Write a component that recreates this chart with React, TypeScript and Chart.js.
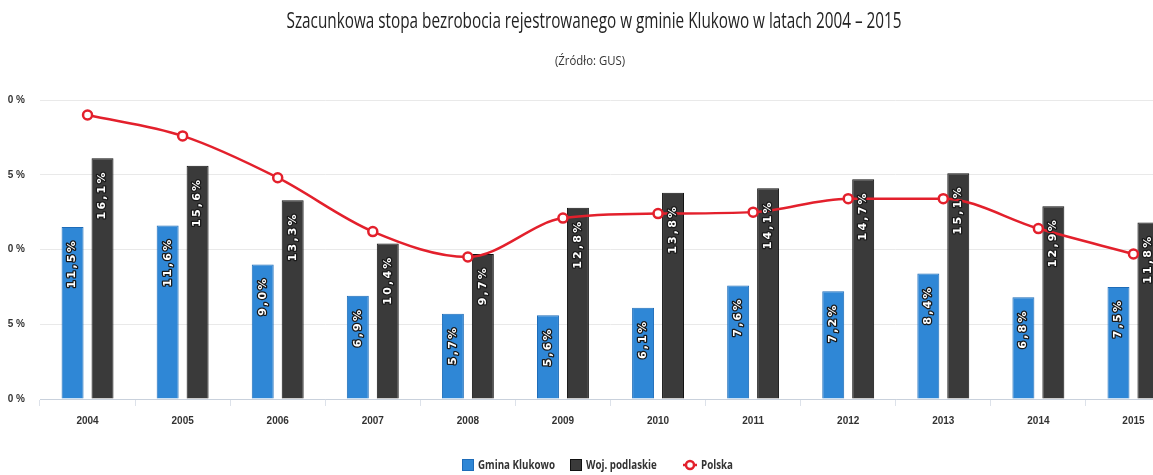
import React, { useEffect, useRef } from "react";
import { Chart, registerables } from "chart.js";

Chart.register(...registerables);

const categories = ["2004", "2005", "2006", "2007", "2008", "2009", "2010", "2011", "2012", "2013", "2014", "2015"];
const gminaKlukowo = [11.5, 11.6, 9.0, 6.9, 5.7, 5.6, 6.1, 7.6, 7.2, 8.4, 6.8, 7.5];
const wojPodlaskie = [16.1, 15.6, 13.3, 10.4, 9.7, 12.8, 13.8, 14.1, 14.7, 15.1, 12.9, 11.8];
const polska = [19.0, 17.6, 14.8, 11.2, 9.5, 12.1, 12.4, 12.5, 13.4, 13.4, 11.4, 9.7];
const yTickLabels: Record<number, string> = { 0: "0 %", 5: "5 %", 10: "0 %", 15: "5 %", 20: "0 %" };
const seriesNames = ["Gmina Klukowo", "Woj. podlaskie", "Polska"];
const seriesColors = ["#2f87d6", "#3a3a3a", "#e3202c"];

const titleText = "Szacunkowa stopa bezrobocia rejestrowanego w gminie Klukowo w latach 2004 – 2015";
const subtitleText = "(Źródło: GUS)";

const FONT = "'Liberation Sans', 'DejaVu Sans', sans-serif";
const HUMAN = "'Open Sans', 'Noto Sans', sans-serif";

function drawCondensed(ctx: CanvasRenderingContext2D, text: string, font: string, cx: number, cy: number, targetWidth: number, color: string) {
  ctx.save();
  ctx.font = font;
  const w = ctx.measureText(text).width;
  const sx = targetWidth / w;
  ctx.translate(cx, cy);
  ctx.scale(sx, 1);
  ctx.textAlign = "center";
  ctx.textBaseline = "middle";
  ctx.fillStyle = color;
  ctx.fillText(text, 0, 0);
  ctx.restore();
}

const barLabelPlugin = {
  id: "barLabels",
  afterDatasetsDraw(chart: any) {
    const ctx = chart.ctx;
    [0, 1].forEach((di) => {
      const meta = chart.getDatasetMeta(di);
      const data = chart.data.datasets[di].data as number[];
      meta.data.forEach((bar: any, i: number) => {
        const txt = data[i].toFixed(1).replace(".", ",") + "%";
        ctx.save();
        ctx.translate(bar.x, bar.y + 12);
        ctx.rotate(-Math.PI / 2);
        ctx.font = "bold 11px 'DejaVu Sans', sans-serif";
        (ctx as any).letterSpacing = "2.2px";
        ctx.textAlign = "right";
        ctx.textBaseline = "middle";
        ctx.lineJoin = "round";
        ctx.lineWidth = 2.5;
        ctx.strokeStyle = "#1a1a1a";
        ctx.strokeText(txt, 0, 0);
        ctx.fillStyle = "#ffffff";
        ctx.fillText(txt, 0, 0);
        ctx.restore();
      });
    });
  },
};

const textPlugin = {
  id: "texts",
  afterDraw(chart: any) {
    const ctx: CanvasRenderingContext2D = chart.ctx;
    drawCondensed(ctx, titleText, `21px ${HUMAN}`, 594, 22, 615, "#222222");
    drawCondensed(ctx, subtitleText, `12px ${HUMAN}`, 590, 62, 70, "#333333");

    const ly = 465;
    const legendFont = `bold 13px ${HUMAN}`;
    ctx.save();
    ctx.font = legendFont;
    const f = 77 / ctx.measureText(seriesNames[0]).width;
    ctx.restore();
    const drawText = (t: string, x: number) => {
      ctx.save();
      ctx.font = legendFont;
      ctx.translate(x, ly);
      ctx.scale(f, 1);
      ctx.textAlign = "left";
      ctx.textBaseline = "middle";
      ctx.fillStyle = "#333333";
      ctx.fillText(t, 0, 0);
      ctx.restore();
    };
    ctx.save();
    ctx.fillStyle = seriesColors[0];
    ctx.fillRect(462, ly - 6, 12, 12);
    ctx.strokeStyle = "#1e6cb8";
    ctx.lineWidth = 1;
    ctx.strokeRect(462.5, ly - 5.5, 11, 11);
    ctx.fillStyle = seriesColors[1];
    ctx.fillRect(570, ly - 6, 12, 12);
    ctx.strokeStyle = "#111";
    ctx.strokeRect(570.5, ly - 5.5, 11, 11);
    ctx.strokeStyle = seriesColors[2];
    ctx.lineWidth = 2.5;
    ctx.beginPath();
    ctx.moveTo(683, ly);
    ctx.lineTo(697, ly);
    ctx.stroke();
    ctx.beginPath();
    ctx.arc(690, ly, 4, 0, Math.PI * 2);
    ctx.fillStyle = "#fff";
    ctx.fill();
    ctx.stroke();
    ctx.restore();
    drawText(seriesNames[0], 478);
    drawText(seriesNames[1], 586);
    drawText(seriesNames[2], 701);
  },
};

export default function App() {
  const ref = useRef<HTMLCanvasElement>(null);
  useEffect(() => {
    if (!ref.current) return;
    const chart = new Chart(ref.current, {
      type: "bar",
      data: {
        labels: categories,
        datasets: [
          {
            type: "bar",
            label: seriesNames[0],
            data: gminaKlukowo,
            backgroundColor: seriesColors[0],
            borderColor: "#1e6cb8",
            borderWidth: 1,
            categoryPercentage: 0.63,
            barPercentage: 0.733,
            order: 2,
          },
          {
            type: "bar",
            label: seriesNames[1],
            data: wojPodlaskie,
            backgroundColor: seriesColors[1],
            borderColor: "#111111",
            borderWidth: 1,
            categoryPercentage: 0.63,
            barPercentage: 0.733,
            order: 2,
          },
          {
            type: "line",
            label: seriesNames[2],
            data: polska,
            borderColor: seriesColors[2],
            backgroundColor: "#ffffff",
            borderWidth: 2.5,
            pointRadius: 4.5,
            pointBorderWidth: 2.5,
            pointBackgroundColor: "#ffffff",
            pointBorderColor: seriesColors[2],
            cubicInterpolationMode: "monotone",
            order: 1,
          } as any,
        ],
      },
      options: {
        animation: false,
        responsive: true,
        maintainAspectRatio: false,
        layout: { padding: { left: 0, right: 9, top: 100, bottom: 39 } },
        plugins: {
          title: { display: false },
          subtitle: { display: false },
          legend: { display: false },
          tooltip: { enabled: false },
        },
        scales: {
          x: {
            offset: true,
            grid: {
              offset: true,
              drawOnChartArea: false,
              drawTicks: true,
              tickLength: 7,
              color: "#dde2ea",
            },
            border: { display: true, color: "#c9d1dc" },
            ticks: {
              color: "#333",
              font: { family: FONT, size: 10, weight: "bold" },
              padding: 9,
            },
          },
          y: {
            min: 0,
            max: 20,
            afterFit(scale: any) {
              scale.width = 40;
            },
            grid: { color: "#e9e9e9", drawTicks: false },
            border: { display: false },
            ticks: {
              stepSize: 5,
              padding: 15,
              color: "#333",
              font: { family: FONT, size: 10, weight: "bold" },
              callback: (v: any) => yTickLabels[Number(v)] ?? "",
            },
          },
        },
      },
      plugins: [barLabelPlugin, textPlugin],
    });
    return () => chart.destroy();
  }, []);

  return (
    <div
      style={{
        position: "fixed",
        left: 0,
        top: 0,
        width: 1153,
        height: 475,
        overflow: "hidden",
        background: "#ffffff",
      }}
    >
      <div style={{ position: "relative", width: 1190, height: 475 }}>
        <canvas ref={ref} />
      </div>
    </div>
  );
}
